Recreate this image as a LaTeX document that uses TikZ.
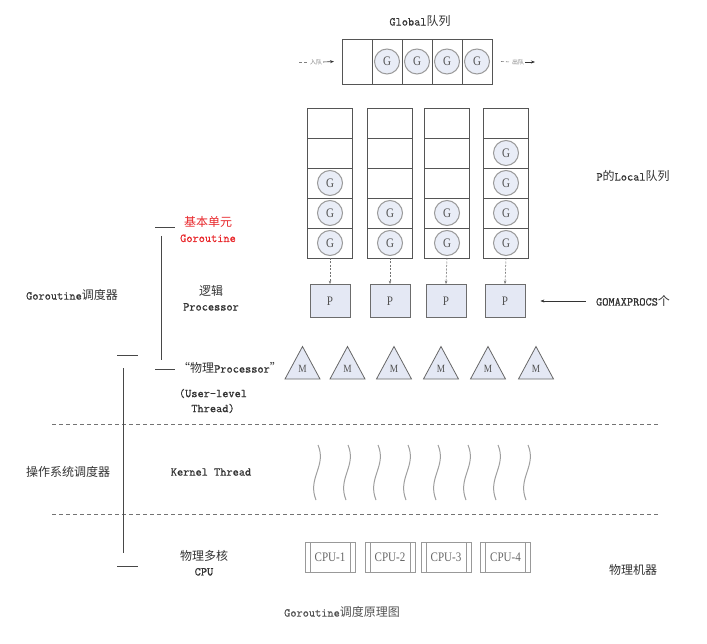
\documentclass[tikz,border=0pt]{standalone}
\usepackage{fontspec}
\setmonofont{Latin Modern Mono}[RawFeature={embolden=0.8}]
\newfontfamily\cjk{Noto Sans CJK SC}
\newfontfamily\serifnarrow{Liberation Serif}[RawFeature={extend=0.85}]
\usetikzlibrary{arrows.meta}
\definecolor{txt}{HTML}{333333}
\definecolor{gfill}{HTML}{E9EDF7}
\definecolor{pfill}{HTML}{E4E8F4}
\definecolor{cellc}{HTML}{555555}
\definecolor{gline}{HTML}{9A9A9A}
\definecolor{redt}{HTML}{E8262A}
\tikzset{
  cell/.style={draw=cellc, line width=0.8pt, minimum width=#1, minimum height=30pt, inner sep=0pt, outer sep=0pt},
  gcell/.style={draw=cellc, line width=0.8pt, minimum width=30pt, minimum height=45pt, inner sep=0pt, outer sep=0pt},
  gball/.style={circle, draw=gline, line width=1pt, fill=gfill, minimum size=25pt, inner sep=0pt, font=\fontsize{13}{14}\selectfont\serifnarrow, text=txt!85},
  pbox/.style={draw=gray!85!black, line width=0.8pt, fill=pfill, minimum width=40pt, minimum height=33pt, inner sep=0pt, font=\fontsize{13}{14}\selectfont\serifnarrow, text=txt!85},
  cpubox/.style={draw=gray!80, line width=0.8pt, minimum width=50pt, minimum height=30pt, inner sep=0pt, font=\fontsize{13}{14}\selectfont\serifnarrow, text=txt!75},
  tri/.style={draw=gray!80!black, line width=0.8pt, fill=pfill},
  lbl/.style={font=\fontsize{12}{15}\selectfont\ttfamily, text=txt, align=center, inner sep=0pt},
  brk/.style={draw=txt!90, line width=0.8pt},
  sep/.style={draw=gray!90!black, line width=0.7pt, dash pattern=on 4pt off 3pt},
  wave/.style={draw=gray!75, line width=1pt},
  tinyt/.style={font=\fontsize{6}{7}\selectfont\cjk, text=gray, inner sep=1pt},
  arr/.style={-{Stealth[length=4pt,width=3pt]}, line width=0.6pt, draw=txt},
  darr/.style={-{Stealth[length=3.5pt,width=2.5pt]}, line width=0.6pt, draw=gray!90!black, dash pattern=on 2pt off 1.5pt}
}
\begin{document}
\begin{tikzpicture}[x=1pt,y=-1pt]
\useasboundingbox (0,0) rectangle (707,644);

% Global queue
\node[lbl] (gtitle) at (420,21) {Global{\cjk 队列}};
\foreach \i/\x in {0/357,1/387,2/417,3/447,4/477}{
  \node[gcell] (gq\i) at (\x,61.5) {};
}
\foreach \i in {1,2,3,4}{
  \node[gball] (gg\i) at (gq\i.center) {G};
}
\node[tinyt] (inq) at (316,62) {入队};
\coordinate (ginL) at (299,62);
\draw[gray, line width=0.6pt, dash pattern=on 3pt off 2pt] (ginL) -- (inq.west);
\draw[arr] (inq.east) -- ([xshift=-8pt]gq0.west);
\node[tinyt] (outq) at (518,62) {出队};
\coordinate (goutR) at (535,62);
\draw[gray, line width=0.6pt, dash pattern=on 3pt off 2pt] ([xshift=9pt]gq4.east) -- (outq.west);
\draw[arr] (outq.east) -- (goutR);

% Local queues
\foreach \c/\x in {1/330,2/390,3/447,4/506}{
  \foreach \r/\y in {1/123,2/153,3/183,4/213,5/243}{
    \node[cell=45pt] (l\c\r) at (\x,\y) {};
  }
}
\foreach \c/\r in {1/3,1/4,1/5,2/4,2/5,3/4,3/5,4/2,4/3,4/4,4/5}{
  \node[gball] (lg\c\r) at (l\c\r.center) {G};
}
\node[lbl] (localq) at (633,176) {P{\cjk 的}Local{\cjk 队列}};

% Processors
\foreach \c/\x in {1/330,2/390,3/446,4/505}{
  \node[pbox] (p\c) at (\x,301) {P};
  \draw[darr] (l\c5.south) -- (p\c.north);
}
\node[lbl] (gmx) at (633,301) {GOMAXPROCS{\cjk 个}};
\draw[arr] ([xshift=-10pt]gmx.west) -- ([xshift=15pt]p4.east);

% Machines (M)
\foreach \i/\x in {1/302.5,2/347.5,3/394,4/441,5/488,6/536}{
  \draw[tri] (\x-17.5,379) -- (\x,346.5) -- (\x+17.5,379) -- cycle;
  \node[font=\fontsize{11}{12}\selectfont\serifnarrow, text=txt!85, inner sep=0pt] (m\i) at (\x,369) {M};
}

% Kernel threads
\foreach \x in {317,347,377,407,437,467,497,527}{
  \draw[wave] (\x+1,445) .. controls (\x+10,466) and (\x-10,478) .. (\x-1,500);
}

% separators
\draw[sep] (52,424) -- (660,424);
\draw[sep] (52,514) -- (660,514);

% CPUs
\foreach \i/\x in {1/330,2/390,3/446,4/505.5}{
  \node[cpubox] (cpu\i) at (\x,557.5) {CPU-\i};
  \draw[draw=gray!80, line width=0.8pt] ([xshift=5.5pt]cpu\i.north west) -- ([xshift=5.5pt]cpu\i.south west);
  \draw[draw=gray!80, line width=0.8pt] ([xshift=-5.5pt]cpu\i.north east) -- ([xshift=-5.5pt]cpu\i.south east);
}

% left labels
\node[lbl, text=redt] (basic) at (208,229.5) {{\cjk 基本单元}\\Goroutine};
\node[lbl] (logic) at (211,298) {{\cjk 逻辑}\\Processor};
\node[lbl] (gsched) at (72,295) {Goroutine{\cjk 调度器}};
\node[lbl] (phys) at (230,368) {{\cjk “物理}Processor{\cjk ”}};
\node[lbl] (ult) at (213,401) {(User-level\\Thread)};
\node[lbl] (ossched) at (68,472) {\cjk 操作系统调度器};
\node[lbl] (kt) at (211,472) {Kernel Thread};
\node[lbl] (pcpu) at (204,563) {{\cjk 物理多核}\\CPU};
\node[lbl] (machine) at (633,570) {\cjk 物理机器};
\node[lbl, text=txt!85] (title) at (342,612) {Goroutine{\cjk 调度原理图}};

% brackets
\draw[brk] (155,227) -- (175,227);
\draw[brk] (161,236) -- (161,360);
\draw[brk] (155,369) -- (175,369);
\draw[brk] (117,355) -- (138,355);
\draw[brk] (123.5,368) -- (123.5,553);
\draw[brk] (117,566) -- (138,566);
\end{tikzpicture}
\end{document}
